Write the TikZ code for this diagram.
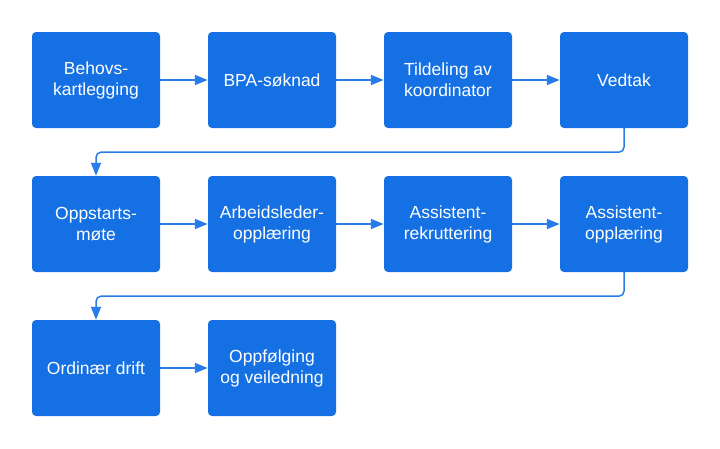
\documentclass[tikz,border=0pt]{standalone}
\usepackage{fontspec}
\setmainfont{Liberation Sans}
\usetikzlibrary{arrows.meta}
\definecolor{boxblue}{HTML}{1570E4}
\definecolor{lineblue}{HTML}{2A7DE9}
\begin{document}
\begin{tikzpicture}[x=1pt,y=-1pt,
  stepbox/.style={draw=none,fill=boxblue,rounded corners=4pt,minimum width=128pt,minimum height=96pt,
    text=white,align=center,inner sep=2pt,font=\fontsize{17.5}{21}\selectfont},
  conn/.style={draw=lineblue,line width=1.5pt,-{Triangle[length=13pt,width=10pt]}},
  elbow/.style={conn,rounded corners=5pt}]
\useasboundingbox (0,0) rectangle (720,448);
\node[stepbox] (a1) at (96,80) {Behovs-\\kartlegging};
\node[stepbox] (a2) at (272,80) {BPA-søknad};
\node[stepbox] (a3) at (448,80) {Tildeling av\\koordinator};
\node[stepbox] (a4) at (624,80) {Vedtak};
\node[stepbox] (b1) at (96,224) {Oppstarts-\\møte};
\node[stepbox] (b2) at (272,224) {Arbeidsleder-\\opplæring};
\node[stepbox] (b3) at (448,224) {Assistent-\\rekruttering};
\node[stepbox] (b4) at (624,224) {Assistent-\\opplæring};
\node[stepbox] (c1) at (96,368) {Ordinær drift};
\node[stepbox] (c2) at (272,368) {Oppfølging\\og veiledning};
\draw[conn] (a1.east) -- (a2.west);
\draw[conn] (a2.east) -- (a3.west);
\draw[conn] (a3.east) -- (a4.west);
\draw[elbow] (a4.south) -- ++(0,24) -| (b1.north);
\draw[conn] (b1.east) -- (b2.west);
\draw[conn] (b2.east) -- (b3.west);
\draw[conn] (b3.east) -- (b4.west);
\draw[elbow] (b4.south) -- ++(0,24) -| (c1.north);
\draw[conn] (c1.east) -- (c2.west);
\end{tikzpicture}
\end{document}
